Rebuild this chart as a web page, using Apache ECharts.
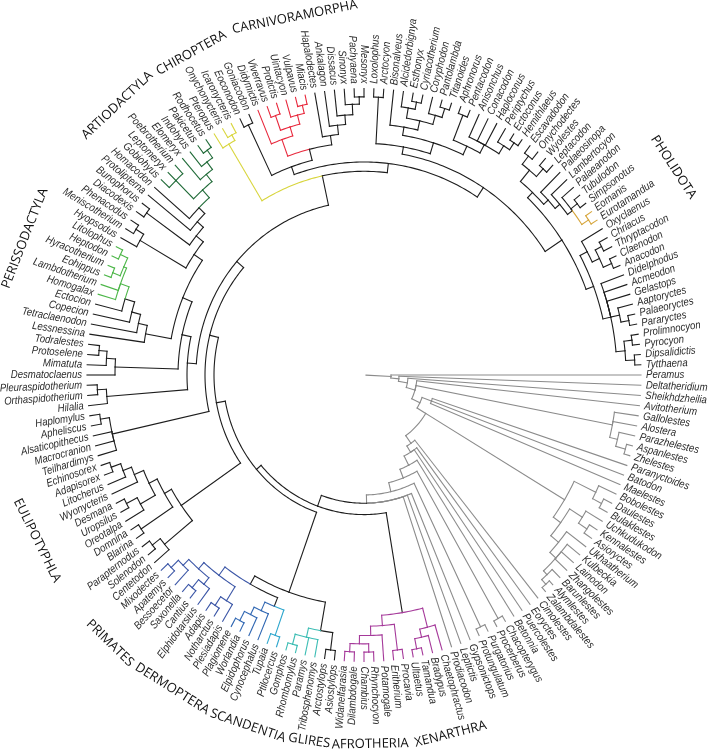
<!DOCTYPE html>
<html><head><meta charset="utf-8">
<style>html,body{margin:0;padding:0;background:#fff}#c{width:709px;height:750px}</style>
<script src="https://cdn.jsdelivr.net/npm/echarts@6/dist/echarts.min.js"></script>
</head><body><div id="c"></div>
<script>
// ---- clade colours
const GREY='#8b8b8b',BLACK='#1d1d1d',ARTIO='#1f6a37',PERI='#4cb648',CHIRO='#d8d53c',CARN='#e8283c',
      PHOL='#d6a53a',PRIM='#3a55a6',DERM='#2f66b2',SCAN='#2ea6cd',GLIR='#3cbdb4',AFRO='#a5399a';
// ---- clade names around the tree: text, radius, angle in degrees
const cladeWords=[['ARTIODACTYLA',359,226.6],['CHIROPTERA',356,241],['CARNIVORAMORPHA',353,258.7],['PHOLIDOTA',369,327],
 ['PERISSODACTYLA',364,201.3],['EULIPOTYPHLA',364,153.9],['PRIMATES',363,134.4],['DERMOPTERA',359,122.3],
 ['SCANDENTIA',358.6,108.9],['GLIRES',358,98.8],['AFROTHERIA',357,89],['XENARTHRA',358,76]];
// ---- tree helpers: N(node depth, ...children); a string child is a taxon
const N=(r,...kids)=>({r,kids});
const K=(c,n)=>{n.c=c;return n};
const F=(r,...kids)=>({r,kids,first:true});
const TIP=277;
// ---- tree parts (depth)
const xenarthra=N(252,'Chaetophractus',N(260,'Bradypus',N(270,'Tamandua','Ultaetus')));
const afrotheria=N(243,N(268,'Procavia','Eritherium'),N(252,'Potamogale',N(260,N(268,'Rhynchocyon','Chambius'),N(268,'Dilambdogale','Widanelfarasia'))));
const glires=N(251,N(268,'Asiostylops','Arctostylops'),K(GLIR,N(260,'Tribosphenomys','Paramys',N(270,'Rhombomylus','Gomphos'))));
const dermScan=N(241,K(SCAN,N(267,'Ptilocercus','Tupaia')),K(DERM,N(250,'Cynocephalus',N(258,'Elpidophorus',N(268,'Worlandia','Plagiomene')))));
const primates=N(242,N(258,'Plesiadapis',N(268,'Notharctus','Adapis')),N(250,N(258,'Elphidotarsius',N(268,'Cantius','Saxonella')),N(258,'Bessoecetor',N(268,'Apatemys','Mixodectes'))));
const eulipotyphla=N(222,N(258,'Centetodon',N(268,'Solenodon','Parapternodus')),N(230,N(268,'Blarina','Domnina'),N(239,N(256,'Oreotalpa',N(268,'Uropsilus','Desmana')),N(249,'Wyonycteris',N(258,'Litocherus',N(268,'Adapisorex','Echinosorex'))))));
const apheliscids=N(258,'Teilhardimys','Macrocranion','Alsaticopithecus',N(267,'Apheliscus','Haplomylus'));
const hilalia=N(258,'Hilalia',N(267,'Orthaspidotherium','Pleuraspidotherium'));
const desmato=N(249,'Desmatoclaenus',N(258,'Mimatuta',N(266,'Protoselene','Todralestes')));
const perisso=N(259,'Homogalax','Lambdotherium',N(262,N(270,'Eohippus','Hyracotherium'),N(270,'Heptodon','Litolophus')));
const ectocion=N(222,'Lessnessina',N(231,'Tetraclaenodon',N(240,'Copecion',N(250,'Ectocion',K(PERI,perisso)))));
const artio=N(241,N(266,'Gobiohyus','Leptomeryx','Poebrotherium'),N(250,'Elomeryx',N(259,'Indohyus',N(268,'Pakicetus','Rodhocetus'))));
const ungulates=N(206,N(259,'Hyopsodus',N(268,'Meniscotherium','Phenacodus')),N(215,N(268,'Diacodexis','Bunophorus'),N(223,'Protolipterna',N(231,'Homacodon',K(ARTIO,artio)))));
const chiroptera=N(261,'Pteropus',N(267,'Onychonycteris','Icaronycteris'));
const carnivora=N(242,'Didymictis',N(251,N(266,'Viverravus','Protictis'),N(260,'Uintacyon',N(268,'Vulpavus','Miacis'))));
const mesonychia=N(234,'Hapalodectes',N(243,'Ankalagon',N(252,'Dissacus',N(262,'Sinonyx',N(269,'Pachyaena','Mesonyx')))));
const pantodonts=N(243,'Bisonalveus',N(252,N(262,'Alcidedorbignya',N(269,'Esthonyx','Cyriacotherium')),N(261,'Coryphodon',N(270,'Pantolambda','Titanoides'))));
const periptychids=N(244,N(270,'Aphronorus','Pentacodon'),N(253,'Anisonchus','Conacodon','Haploconus',N(262,'Periptychus',N(270,'Ectoconus','Hemithlaeus'))));
const pholidota=N(244,N(258,N(268,'Escavadodon','Onychodectes'),N(268,'Wyolestes','Leptacodon')),N(250,'Palaeosinopa',N(256,'Lambertocyon',N(262,'Palaeanodon',N(270,'Tubulodon','Simpsonotus'),K(PHOL,N(270,'Eomanis','Eurotamandua'))))));
const creodonts=N(245,N(253,'Oxyclaenus',N(261,N(268,'Chriacus','Thryptacodon'),N(270,'Claenodon','Anacodon'))),N(253,'Didelphodus','Acmeodon','Gelastops',N(262,'Aaptoryctes',N(270,'Palaeoryctes','Pararyctes')),N(262,N(270,'Prolimnocyon','Pyrocyon'),N(271,'Dipsalidictis','Tytthaena'))));
const upper=N(197,K(CHIRO,chiroptera),N(206,N(214,N(268,'Eoconodon','Goniacodon'),N(225,K(CARN,carnivora),mesonychia)),N(217,N(224,N(269,'Loxolophus','Arctocyon'),N(235,pantodonts,periptychids)),N(237,pholidota,creodonts))));
const placentals=K(BLACK,N(135,N(233,K(AFRO,xenarthra),K(AFRO,afrotheria)),
 N(141,N(223,glires,N(232,dermScan,K(PRIM,primates))),
 N(150,eulipotyphla,N(159,apheliscids,N(168,N(177,hilalia,N(186,desmato,N(196,ectocion,ungulates))),upper))))));
const zhelestids=N(253,'Gallolestes','Alostera',N(261,'Parazhelestes',N(271,'Aspanlestes','Zhelestes')));
const asioryctids=N(234,N(258,'Bobolestes',N(268,'Daulestes','Bulaklestes')),N(243,N(258,'Uchkudukodon',N(268,'Kennalestes','Asioryctes')),N(253,'Ukhaatherium',N(261,'Kulbeckia','Lainodon','Zhangolestes',N(266,'Barunlestes',N(272,'Alymlestes','Zalambdalestes'))))));
const ladder=N(81,'Cimolestes',N(88,'Eoryctes','Puercolestes',N(98,'Betonnia',N(107,N(271,'Chacopterygus','Procerberus'),N(116,N(270,'Purgatorius','Protungulatum'),N(124,'Gypsonictops','Leptictis','Prodiacodon',placentals))))));
const tree=N(27,'Peramus',N(35,'Deltatheridium',N(44,'Sheikhdzheilia',N(53,'Avitotherium',zhelestids,N(62,N(72,'Paranyctoides','Batodon','Maelestes'),F(72,asioryctids,ladder))))));
const ROOT_START=2;
// ---- walk the tree
const taxa=[],segs=[];
function layout(n){ if(typeof n==='string'){taxa.push(n);return {a:taxa.length-1,r:TIP,leaf:true};}
  const ks=n.kids.map(k=>{const o=layout(k);return {o,c:k.c};});
  n.a=n.first?ks[0].o.a:(ks[0].o.a+ks[ks.length-1].o.a)/2; n.ks=ks; return {a:n.a,r:n.r,node:n}; }
layout(tree);
const COUNT=taxa.length;
function emit(n,col){ n.ks.forEach(k=>{const c=k.c||col;
   segs.push([n.r,k.o.a,k.o.r,k.o.a,c]); segs.push([n.r,n.a,n.r,k.o.a,c]);
   if(k.o.node)emit(k.o.node,c);}); }
segs.push([ROOT_START,tree.a,tree.r,tree.a,GREY]); emit(tree,GREY);

const STRETCH=1.034,CX=364,CY=375,DEG=COUNT/360;
const chart=echarts.init(document.getElementById('c'),null,{renderer:'canvas'});
const pt=(api,r,a)=>{const p=api.coord([r,a]);return [p[0],CY+(p[1]-CY)*STRETCH];};
chart.setOption({animation:false,
 polar:{center:[CX,CY],radius:278},
 angleAxis:{type:'value',min:0,max:COUNT,startAngle:0,clockwise:true,show:false},
 radiusAxis:{type:'value',min:0,max:278,show:false},
 series:[
 {type:'custom',coordinateSystem:'polar',clip:false,silent:true,data:segs,
  renderItem:(p,api)=>{const s=segs[p.dataIndex];const pts=[];
    const n=Math.max(1,Math.ceil(Math.abs(s[3]-s[1])/0.4));
    for(let i=0;i<=n;i++){const t=i/n;pts.push(pt(api,s[0]+(s[2]-s[0])*t,s[1]+(s[3]-s[1])*t));}
    return {type:'polyline',shape:{points:pts},style:{stroke:s[4],lineWidth:1.1,fill:null,lineCap:'square'}};}},
 {type:'custom',coordinateSystem:'polar',clip:false,silent:true,data:taxa.map((t,i)=>[TIP+5,i]),
  renderItem:(p,api)=>{const i=p.dataIndex;const q=pt(api,TIP+5,i);
    const rot=Math.atan2(-(q[1]-CY),q[0]-CX);const right=q[0]>=CX;
    return {type:'text',x:q[0],y:q[1],rotation:right?rot:rot+Math.PI,scaleX:0.87,
      style:{text:taxa[i],fill:'#2b2b2b',font:'italic 11px "Liberation Sans"',align:right?'left':'right',verticalAlign:'middle'}};}},
 {type:'custom',coordinateSystem:'polar',clip:false,silent:true,data:cladeWords.map(w=>[w[1],w[2]*DEG]),
  renderItem:(p,api)=>{const w=cladeWords[p.dataIndex];const q=pt(api,w[1],w[2]*DEG);
    const deg=w[2]<180?90-w[2]:270-w[2];
    return {type:'text',x:q[0],y:q[1],rotation:deg*Math.PI/180,
      style:{text:w[0],fill:'#111',font:'13px "Open Sans"',align:'center',verticalAlign:'middle'}};}}
 ]});
</script></body></html>
